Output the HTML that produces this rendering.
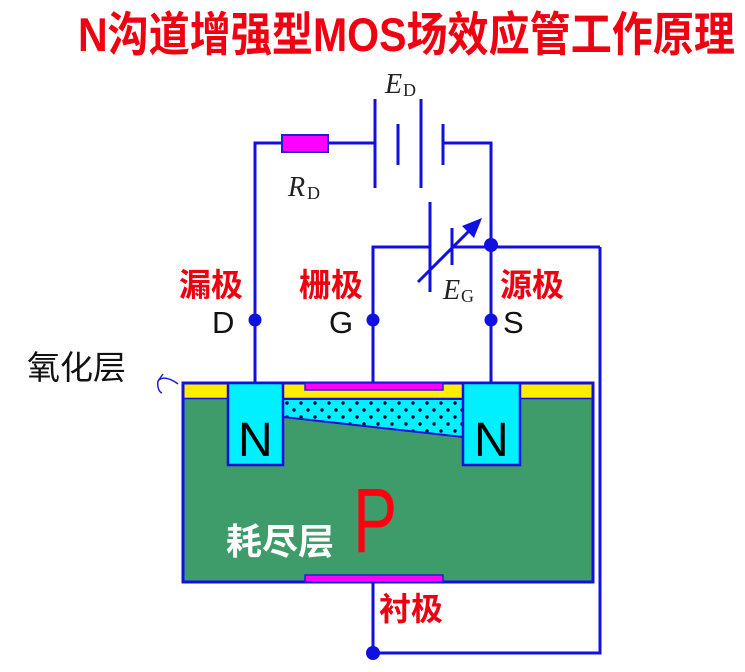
<!DOCTYPE html>
<html><head><meta charset="utf-8"><style>
html,body{margin:0;padding:0;background:#fff;width:745px;height:672px;overflow:hidden}
svg{display:block}
</style></head><body>
<svg width="745" height="672" viewBox="0 0 745 672" xmlns="http://www.w3.org/2000/svg">
<defs>
<pattern id="dots" x="283" y="399" width="14" height="14" patternUnits="userSpaceOnUse">
<rect width="14" height="14" fill="#00f0ff"/>
<circle cx="4" cy="4" r="1.7" fill="#002"/>
<circle cx="11" cy="11" r="1.7" fill="#002"/>
</pattern>
</defs>
<text x="78" y="51" font-family="Liberation Sans, 'Noto Sans CJK SC', sans-serif" font-weight="bold" font-size="42" fill="#f00010" textLength="657" lengthAdjust="spacingAndGlyphs" transform="translate(0,-6) scale(1,1.12)">N沟道增强型MOS场效应管工作原理</text>

<g stroke="#1010e0" stroke-width="3" fill="none">
<polyline points="255,385 255,143 282,143"/>
<line x1="328" y1="143" x2="375" y2="143"/>
<line x1="375" y1="99" x2="375" y2="188"/>
<line x1="398" y1="124" x2="398" y2="165"/>
<line x1="421" y1="99" x2="421" y2="188"/>
<line x1="443" y1="124" x2="443" y2="165"/>
<polyline points="443,143 491,143 491,385"/>
<polyline points="373,385 373,247 430,247"/>
<line x1="430" y1="202" x2="430" y2="292"/>
<line x1="452" y1="228" x2="452" y2="265"/>
<line x1="452" y1="247" x2="600" y2="247"/>
<polyline points="600,247 600,653 373,653 373,582"/>
<line x1="418" y1="282" x2="472" y2="228"/>
<line x1="340" y1="405" x2="300" y2="495"/>
</g>
<polygon points="482,218 462,226 474,238" fill="#1010e0"/>
<polygon points="293,503 296,484 308,490" fill="#1010e0"/>
<g fill="#1010e0">
<circle cx="491" cy="245" r="7"/>
<circle cx="255" cy="320" r="6.5"/>
<circle cx="373" cy="320" r="6.5"/>
<circle cx="491" cy="320" r="6.5"/>
<circle cx="373" cy="653" r="7"/>
</g>
<rect x="282" y="135" width="46" height="17" fill="#ff00ff" stroke="#2020d0" stroke-width="2"/>

<text x="385" y="93" font-family="Liberation Serif, serif" font-style="italic" font-size="28" fill="#222">E</text>
<text x="403" y="96" font-family="Liberation Serif, serif" font-size="18" fill="#222">D</text>
<text x="288" y="196" font-family="Liberation Serif, serif" font-style="italic" font-size="28" fill="#222">R</text>
<text x="307" y="199" font-family="Liberation Serif, serif" font-size="18" fill="#222">D</text>
<text x="443" y="299" font-family="Liberation Serif, serif" font-style="italic" font-size="28" fill="#222">E</text>
<text x="461" y="302" font-family="Liberation Serif, serif" font-size="18" fill="#222">G</text>

<g font-family="Liberation Sans, 'Noto Sans CJK SC', sans-serif" font-weight="bold" font-size="32" fill="#ee0010">
<text x="179" y="296">漏极</text>
<text x="299" y="296">栅极</text>
<text x="500" y="296">源极</text>
<text x="379" y="620">衬极</text>
</g>
<g font-family="Liberation Sans, sans-serif" font-size="31" fill="#111">
<text x="212" y="333">D</text>
<text x="329" y="333">G</text>
<text x="503" y="333">S</text>
</g>
<text x="27" y="379" font-family="Liberation Sans, 'Noto Sans CJK SC', sans-serif" font-size="33" fill="#111">氧化层</text>
<path d="M178,384 C170,378 162,376 158,381 M158,381 L163,374 M158,381 C157,387 159,392 162,393" stroke="#2020d0" stroke-width="1.5" fill="none"/>

<rect x="183" y="383" width="410" height="199" fill="#3d9c6a" stroke="#1010e0" stroke-width="3"/>
<rect x="184.5" y="384.5" width="407" height="14" fill="#ffee00"/>
<line x1="184" y1="398.5" x2="592" y2="398.5" stroke="#1010e0" stroke-width="1.5"/>
<polygon points="283,399 463,399 463,437 283,417" fill="url(#dots)" stroke="#1010e0" stroke-width="2"/>
<rect x="228" y="383" width="55" height="82" fill="#00f0ff" stroke="#1010e0" stroke-width="2.5"/>
<rect x="463" y="383" width="57" height="82" fill="#00f0ff" stroke="#1010e0" stroke-width="2.5"/>
<rect x="305" y="383" width="138" height="7" fill="#ff00ff" stroke="#2020d0" stroke-width="1.5"/>
<rect x="305" y="575" width="138" height="7" fill="#ff00ff" stroke="#2020d0" stroke-width="1.5"/>
<line x1="373" y1="584" x2="373" y2="653" stroke="#1010e0" stroke-width="3"/>
<g font-family="Liberation Sans, sans-serif" font-size="48" fill="#000">
<text x="238" y="456">N</text>
<text x="474" y="456">N</text>
</g>
<text x="0" y="0" font-family="Liberation Sans, sans-serif" font-size="92" fill="#ff0010" transform="translate(353,552) scale(0.72,1)">P</text>
<text x="226" y="554" font-family="Liberation Sans, 'Noto Sans CJK SC', sans-serif" font-weight="bold" font-size="36" fill="#fff">耗尽层</text>
</svg>
</body></html>
